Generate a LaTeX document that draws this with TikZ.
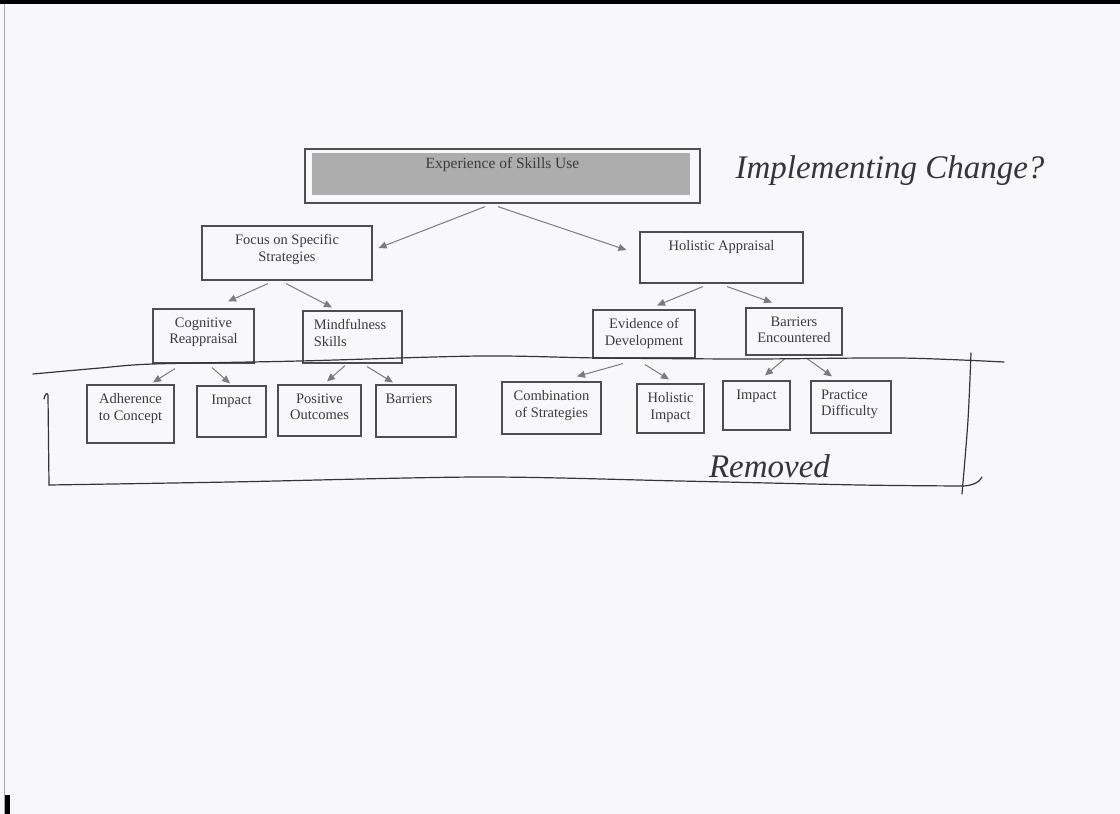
\documentclass[tikz,border=0pt]{standalone}
\usepackage{fontspec}
\setmainfont{Liberation Serif}
\usetikzlibrary{arrows.meta,calc}
\definecolor{paper}{HTML}{F8F8FA}
\definecolor{ink}{HTML}{3C3C3C}
\definecolor{frame}{HTML}{4E4E4E}
\definecolor{arrowgray}{HTML}{7C7C7C}
\definecolor{shade}{HTML}{ADADAD}
\definecolor{pencil}{HTML}{363636}

\begin{document}
\begin{tikzpicture}[x=1pt,y=-1pt,
  box/.style={draw=frame, line width=1.1pt, rectangle, inner sep=0pt},
  lbl/.style={anchor=north, inner sep=0pt, yshift=-9pt, text=ink,
    font=\fontsize{14.5}{16.5}\selectfont, align=center},
  conn/.style={draw=arrowgray, line width=1pt, -{Triangle[length=8pt,width=7pt]}},
  hand/.style={draw=pencil, line width=1.2pt, line cap=round, line join=round},
  script/.style={text=pencil, inner sep=0pt, font=\fontsize{33}{36}\selectfont\itshape}
]
% paper and scanner edges
\fill[paper] (0,0) rectangle (1120,814);
\useasboundingbox (0,0) rectangle (1120,814);
\fill[black] (0,0) rectangle (1120,4);
\draw[gray!70, line width=1pt] (4,4) -- (4,814);
\fill[black] (5,795) rectangle (10,814);

% boxes
\node[fill=shade, inner sep=0pt, minimum width=378pt, minimum height=42pt] (rootfill) at (501,174) {};
\node[box, line width=1.3pt, minimum width=395pt, minimum height=54pt] (root) at (502.5,176) {};
\node[box, minimum width=170pt, minimum height=54pt] (focus) at (287,253) {};
\node[box, minimum width=163pt, minimum height=51pt] (hol) at (721.5,257.5) {};
\node[box, minimum width=101pt, minimum height=54pt] (cog) at (203.5,336) {};
\node[box, minimum width=99pt, minimum height=52pt] (mind) at (352.5,337) {};
\node[box, minimum width=102pt, minimum height=48pt] (evid) at (644,334) {};
\node[box, minimum width=96pt, minimum height=47pt] (barenc) at (794,331.5) {};
\node[box, minimum width=87pt, minimum height=58pt] (adh) at (130.5,414) {};
\node[box, minimum width=69pt, minimum height=51pt] (imp) at (231.5,411.5) {};
\node[box, minimum width=83pt, minimum height=51pt] (pos) at (319.5,410.5) {};
\node[box, minimum width=80pt, minimum height=52pt] (bar) at (416,411) {};
\node[box, minimum width=99pt, minimum height=52pt] (comb) at (551.5,408) {};
\node[box, minimum width=67pt, minimum height=49pt] (holimp) at (670.5,408.5) {};
\node[box, minimum width=67pt, minimum height=49pt] (imptwo) at (756.5,405.5) {};
\node[box, minimum width=80pt, minimum height=52pt] (prac) at (851,407) {};

% labels
\node[lbl, font=\fontsize{15.5}{17}\selectfont] (roott) at (root.north) {Experience of Skills Use};
\node[lbl] (focust) at (focus.north) {Focus on Specific\\Strategies};
\node[lbl] (holt) at (hol.north) {Holistic Appraisal};
\node[lbl] (cogt) at (cog.north) {Cognitive\\Reappraisal};
\node[lbl, align=left, xshift=-2.5pt] (mindt) at (mind.north) {Mindfulness\\Skills};
\node[lbl] (evidt) at (evid.north) {Evidence of\\Development};
\node[lbl] (barenct) at (barenc.north) {Barriers\\Encountered};
\node[lbl] (adht) at (adh.north) {Adherence\\to Concept};
\node[lbl] (impt) at (imp.north) {Impact};
\node[lbl] (post) at (pos.north) {Positive\\Outcomes};
\node[lbl, xshift=-7pt] (bart) at (bar.north) {Barriers};
\node[lbl] (combt) at (comb.north) {Combination\\of Strategies};
\node[lbl] (holimpt) at (holimp.north) {Holistic\\Impact};
\node[lbl] (imptwot) at (imptwo.north) {Impact};
\node[lbl, align=left, xshift=-1.5pt] (pract) at (prac.north) {Practice\\Difficulty};

% connectors
\draw[conn] ($(root.south)+(-17.5,3)$) -- ($(focus.east)+(6,-5)$);
\draw[conn] ($(root.south)+(-4.5,3)$) -- ($(hol.west)+(-13,-7.5)$);
\draw[conn] ($(focus.south)+(-19,3)$) -- ($(cog.north)+(24.5,-7)$);
\draw[conn] ($(focus.south)+(-1,3)$) -- ($(mind.north)+(-20.5,-3)$);
\draw[conn] ($(hol.south)+(-18.5,3)$) -- ($(evid.north)+(13,-4)$);
\draw[conn] ($(hol.south)+(5.5,3)$) -- ($(barenc.north)+(-22,-5)$);
\draw[conn] ($(cog.south)+(-28.5,5)$) -- ($(adh.north)+(22.5,-2)$);
\draw[conn] ($(cog.south)+(8.5,4)$) -- ($(imp.north)+(-1.5,-2)$);
\draw[conn] ($(mind.south)+(-7.5,2)$) -- ($(pos.north)+(7.5,-3)$);
\draw[conn] ($(mind.south)+(14.5,3)$) -- ($(bar.north)+(-23,-2)$);
\draw[conn] ($(evid.south)+(-21,5)$) -- ($(comb.north)+(25.5,-5)$);
\draw[conn] ($(evid.south)+(1,6)$) -- ($(holimp.north)+(-1.5,-4)$);
\draw[conn] ($(barenc.south)+(-9,3)$) -- ($(imptwo.north)+(8.5,-5)$);
\draw[conn] ($(barenc.south)+(13,3)$) -- ($(prac.north)+(-19,-4)$);

% pencil marks
\draw[hand] plot[smooth] coordinates {(33,374) (100,368) (153,364) (300,361) (480,356) (600,358) (750,359) (900,358) (1004,362)};
\draw[hand] (44,399) .. controls (45,394) and (47,392) .. (48,395) -- (49,485);
\draw[hand] plot[smooth] coordinates {(49,485) (230,482) (480,477) (680,481) (860,485) (962,486)};
\draw[hand] (962,486) .. controls (972,486) and (980,482) .. (982,477);
\draw[hand] plot[smooth] coordinates {(971,353) (968,420) (962,494)};
\node[script] (impl) at (890,171) {Implementing Change?};
\node[script] (removed) at (769.5,466) {Removed};
\end{tikzpicture}
\end{document}
